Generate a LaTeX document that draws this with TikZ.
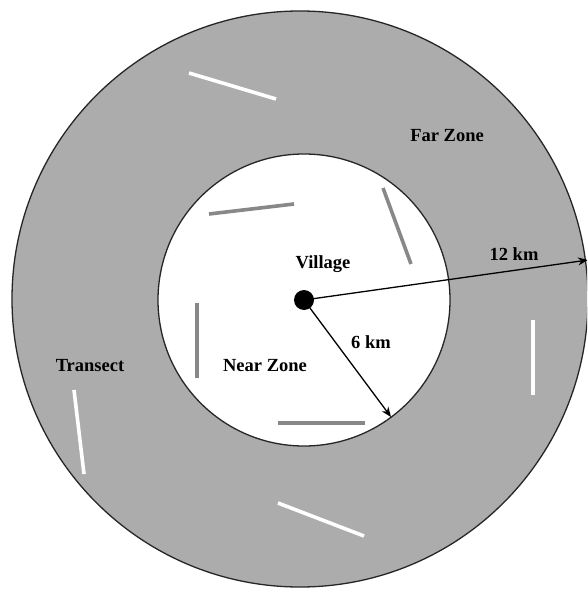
\documentclass[tikz,border=0pt]{standalone}
\usepackage{fontspec}
\setmainfont{Liberation Serif}
\usetikzlibrary{arrows.meta}
\definecolor{zonegray}{RGB}{172,172,172}
\definecolor{nearline}{RGB}{136,136,136}
\tikzset{
  farline/.style={white,line width=3.6pt},
  nearseg/.style={nearline,line width=3.6pt},
  lbl/.style={font=\bfseries\fontsize{18.5}{22}\selectfont,inner sep=0pt},
  radius arrow/.style={line width=1.3pt,-{Stealth[length=10pt,width=8pt]}}
}
\begin{document}
\begin{tikzpicture}[x=1pt,y=-1pt]
\useasboundingbox (0,0) rectangle (587,596);
\clip (0,0) rectangle (587,596);
\fill[white] (0,0) rectangle (587,596);
% zones
\draw[fill=zonegray,line width=1.3pt,draw=black!85] (300,299) circle[radius=288];
\draw[fill=white,line width=1.3pt,draw=black!85] (304,300) circle[radius=146];
% far zone transects
\draw[farline] (189,73) -- (276,99);
\draw[farline] (533,320) -- (533,395);
\draw[farline] (74,390) -- (84,474);
\draw[farline] (278,503) -- (364,536);
% near zone transects
\draw[nearseg] (209,214) -- (294,204);
\draw[nearseg] (383,188) -- (411,264);
\draw[nearseg] (197,303) -- (197,378);
\draw[nearseg] (278,423) -- (365,423);
% village
\node[circle,fill=black,minimum size=20pt,inner sep=0pt] (v) at (304,300) {};
\coordinate (outer) at (588,260);
\coordinate (inner) at (391,417);
\draw[radius arrow] (v.center) -- (outer);
\draw[radius arrow] (v.center) -- (inner);
% labels
\node[lbl] (village) at (323,264) {Village};
\node[lbl] (far) at (447,136) {Far Zone};
\node[lbl] (km12) at (514,254) {12 km};
\node[lbl] (km6) at (371,342) {6 km};
\node[lbl] (near) at (265,366) {Near Zone};
\node[lbl] (trans) at (90,366) {Transect};
\end{tikzpicture}
\end{document}
